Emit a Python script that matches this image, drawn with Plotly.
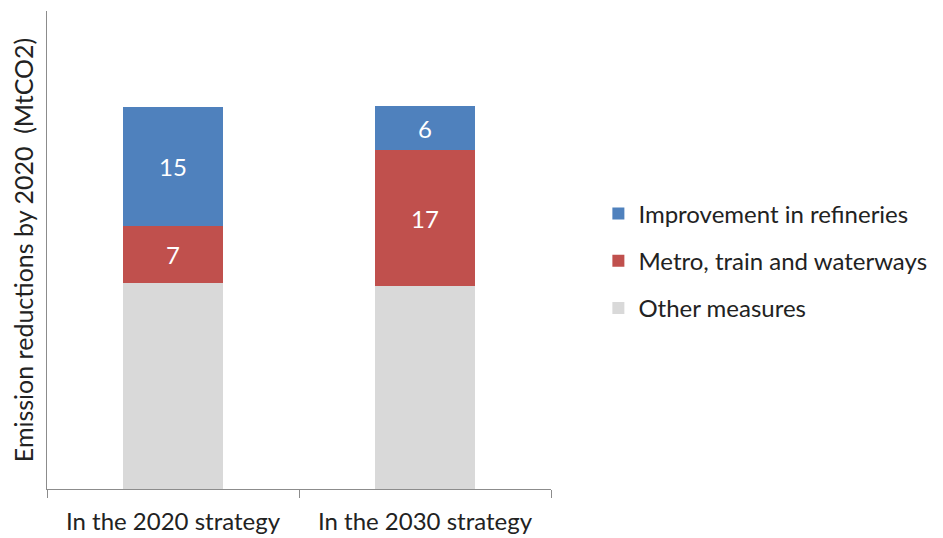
import plotly.graph_objects as go

# categories and stacked values (MtCO2)
strategies = ["In the 2020 strategy", "In the 2030 strategy"]
other_measures = [25.8, 25.5]
metro_train = [7.2, 17.0]
refineries = [15.0, 5.6]

colors = {"other": "#D9D9D9", "metro": "#C0504D", "refin": "#4F81BD"}
FONT = "Lato, Open Sans, sans-serif"

fig = go.Figure()

fig.add_trace(go.Bar(
    x=strategies, y=other_measures, name="Other measures",
    marker=dict(color=colors["other"], line=dict(width=0)),
    legendgroup="c", legendrank=3,
))
fig.add_trace(go.Bar(
    x=strategies, y=metro_train, name="Metro, train and waterways",
    marker=dict(color=colors["metro"], line=dict(width=0)),
    texttemplate="%{y:.0f}", textposition="inside", insidetextanchor="middle",
    textfont=dict(color="white", size=24, family=FONT),
    legendgroup="b", legendrank=2,
))
fig.add_trace(go.Bar(
    x=strategies, y=refineries, name="Improvement in refineries",
    marker=dict(color=colors["refin"], line=dict(width=0)),
    texttemplate="%{y:.0f}", textposition="inside", insidetextanchor="middle",
    textfont=dict(color="white", size=24, family=FONT),
    legendgroup="a", legendrank=1,
))

# page body has an 8px margin, so the figure is shrunk and shifted to fit
fig.update_layout(
    barmode="stack",
    bargap=0.6,
    width=935, height=530,
    margin=dict(l=39, r=392, t=3, b=49),
    plot_bgcolor="white", paper_bgcolor="white",
    font=dict(family=FONT, size=24, color="#222222"),
    showlegend=True,
    legend=dict(
        x=1.094, xanchor="left", y=0.477, yanchor="middle",
        traceorder="grouped", tracegroupgap=13,
        font=dict(size=24, color="#222222"),
        bgcolor="rgba(0,0,0,0)",
    ),
    uniformtext=dict(mode="show", minsize=14),
)

fig.update_xaxes(
    showline=True, linecolor="#8c8c8c", linewidth=1,
    ticks="outside", ticklen=8, tickcolor="#8c8c8c",
    tickson="boundaries", showgrid=False, ticklabelstandoff=11,
    tickfont=dict(size=24, color="#222222"),
)
fig.update_yaxes(
    range=[0, 60], showline=True, linecolor="#8c8c8c", linewidth=1,
    showticklabels=False, ticks="", showgrid=False, zeroline=False,
    title=dict(text="Emission reductions by 2020  (MtCO2)", standoff=10,
               font=dict(size=25, color="#222222")),
)

fig.write_html("out.html")
